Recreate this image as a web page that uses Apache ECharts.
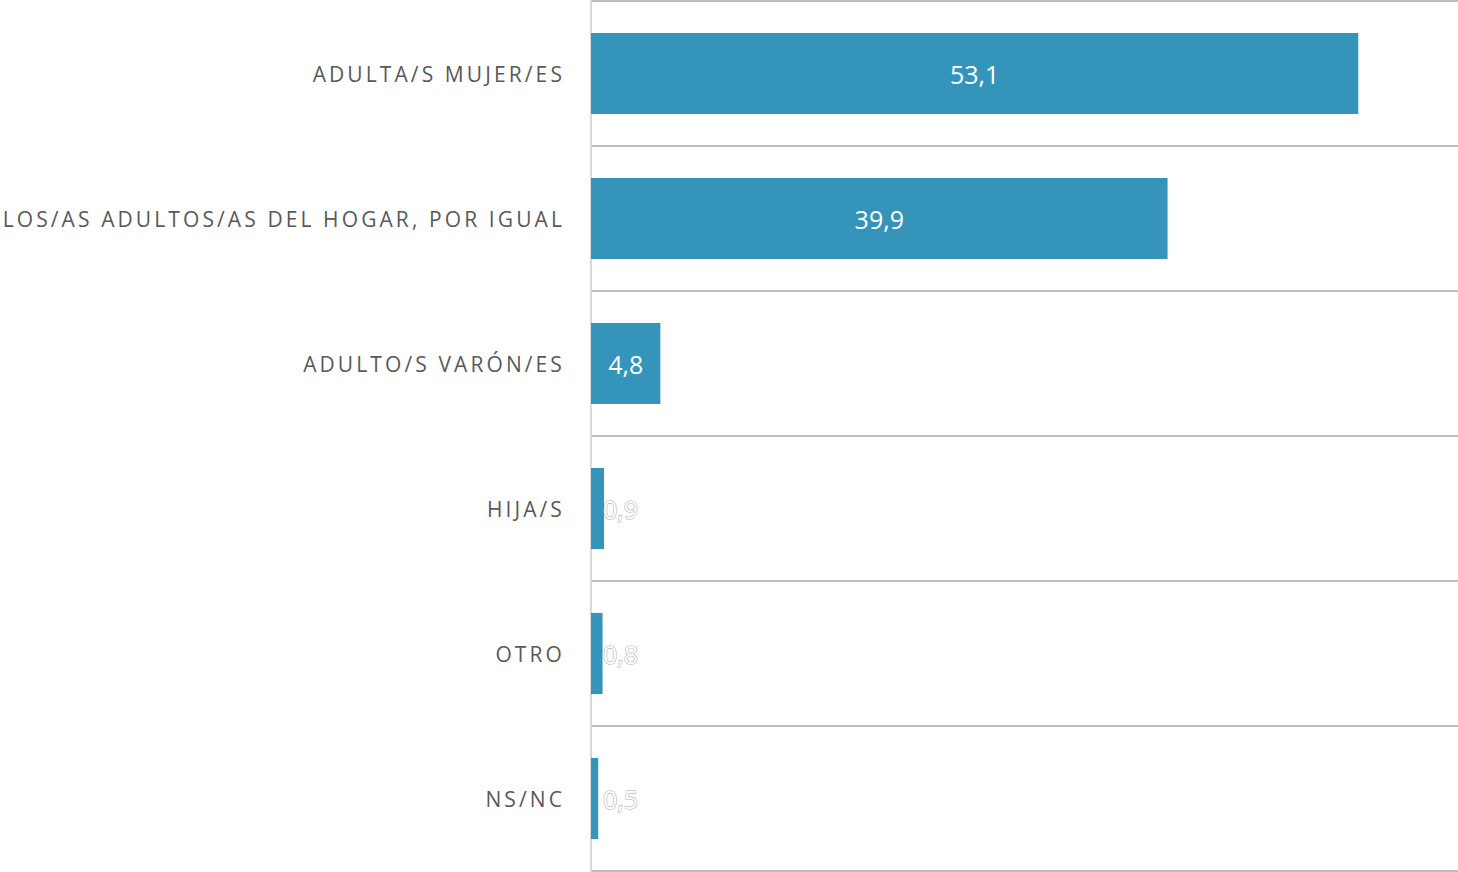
<!DOCTYPE html>
<html>
<head>
<meta charset="utf-8">
<script src="https://cdn.jsdelivr.net/npm/echarts@6/dist/echarts.min.js"></script>
<style>
html,body{margin:0;padding:0;background:#fff;}
#chart{width:1458px;height:872px;}
</style>
</head>
<body>
<div id="chart"></div>
<script>
const categories = ['ADULTA/S MUJER/ES', 'LOS/AS ADULTOS/AS DEL HOGAR, POR IGUAL', 'ADULTO/S VARÓN/ES', 'HIJA/S', 'OTRO', 'NS/NC'];
const values = [53.1, 39.9, 4.8, 0.9, 0.8, 0.5];
const axisMax = 60;

const chart = echarts.init(document.getElementById('chart'), null, {renderer: 'svg'});

const fmt = v => String(v).replace('.', ',');

const seriesData = values.map(v => {
  if (v >= 2) {
    return {value: v, label: {position: 'inside', color: '#ffffff'}};
  }
  return {value: v, label: {position: [12, '50%'], align: 'left', verticalAlign: 'middle', color: '#ffffff', textBorderColor: '#b0b0b0', textBorderWidth: 1.2}};
});

chart.setOption({
  animation: false,
  grid: {left: 591, right: 0, top: 1, bottom: 1, containLabel: false},
  xAxis: {
    type: 'value', min: 0, max: axisMax, show: false,
    splitLine: {show: false}
  },
  yAxis: {
    type: 'category', data: categories, inverse: true,
    axisLine: {show: true, lineStyle: {color: '#d9d9d9', width: 2}},
    axisTick: {show: false},
    axisLabel: {color: '#595959', fontFamily: 'Open Sans', fontSize: 21, margin: 26, padding: [0, 0, 2, 0]},
    splitLine: {show: true, lineStyle: {color: '#bfbfbf', width: 2}}
  },
  series: [{
    type: 'bar',
    data: seriesData,
    barCategoryGap: '44%',
    itemStyle: {color: '#3494ba'},
    label: {
      show: true,
      fontFamily: 'Open Sans',
      fontSize: 25,
      formatter: p => fmt(p.value)
    }
  }]
});

function spaceLabels() {
  document.querySelectorAll('#chart text').forEach(t => {
    if (categories.indexOf(t.textContent.trim()) >= 0) {
      t.style.letterSpacing = '3.1px';
    }
  });
}
chart.on('finished', spaceLabels);
spaceLabels();
</script>
</body>
</html>
